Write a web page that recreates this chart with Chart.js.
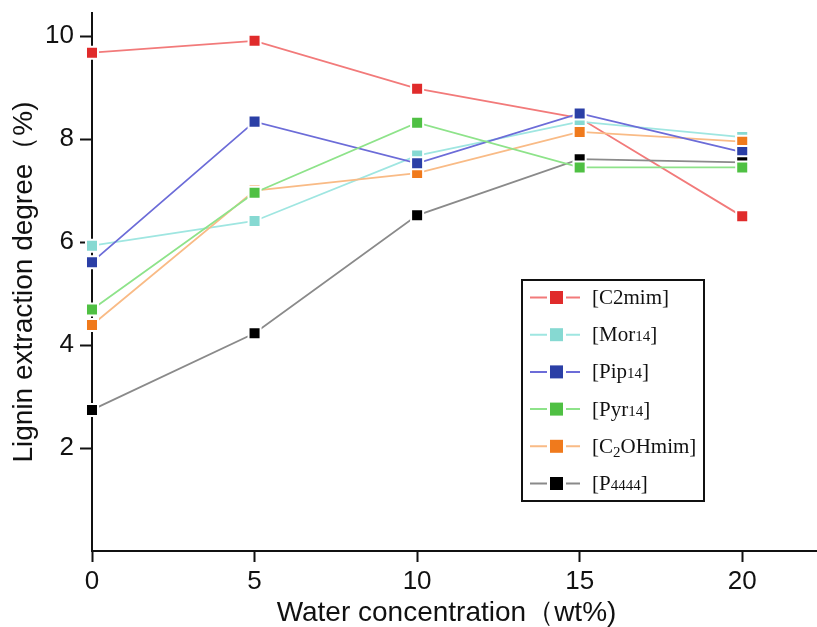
<!DOCTYPE html>
<html><head><meta charset="utf-8">
<script src="https://cdn.jsdelivr.net/npm/chart.js@4.4.1/dist/chart.umd.min.js"></script>
<style>html,body{margin:0;padding:0;background:#fff;}#wrap{width:817px;height:627px;position:relative;}</style>
</head><body><div id="wrap"><canvas id="c"></canvas></div>
<script>
// ---- data ----
const waterConc = [0, 5, 10, 15, 20];
const c2mim   = [9.68, 9.91, 8.98, 8.41, 6.50];
const mor14   = [5.93, 6.41, 7.68, 8.34, 8.04];
const pip14   = [5.61, 8.34, 7.53, 8.50, 7.75];
const pyr14   = [4.69, 6.96, 8.32, 7.45, 7.45];
const c2ohmim = [4.39, 7.00, 7.34, 8.14, 7.95];
const p4444   = [2.74, 4.23, 6.52, 7.61, 7.55];
const xTicks = [0, 5, 10, 15, 20];
const yTicks = [2, 4, 6, 8, 10];
const seriesNames = ['[C2mim]', '[Mor14]', '[Pip14]', '[Pyr14]', '[C2OHmim]', '[P4444]'];
// legend text pieces: n = normal, s = small digits, b = subscript
const legendParts = [
  [['[C2mim]', 'n']],
  [['[Mor', 'n'], ['14', 's'], [']', 'n']],
  [['[Pip', 'n'], ['14', 's'], [']', 'n']],
  [['[Pyr', 'n'], ['14', 's'], [']', 'n']],
  [['[C', 'n'], ['2', 'b'], ['OHmim]', 'n']],
  [['[P', 'n'], ['4444', 's'], [']', 'n']]
];
const xTitle = 'Water concentration\uFF08wt%)';
const yTitle = 'Lignin extraction degree\uFF08%)';

const markerColors = ['#e02b2b', '#86d9d2', '#2b3fa6', '#4fc043', '#f07a1c', '#000000'];
const lineColors   = ['#f27a7a', '#9fe6e1', '#6c6cd8', '#8ee38a', '#f9bb86', '#8a8a8a'];
const drawOrder    = [5, 4, 2, 0, 3, 1];
const seriesValues = [c2mim, mor14, pip14, pyr14, c2ohmim, p4444];

const datasets = seriesValues.map((vals, i) => ({
  label: seriesNames[i],
  data: waterConc.map((x, j) => ({x: x, y: vals[j]})),
  borderColor: lineColors[i],
  backgroundColor: markerColors[i],
  pointBackgroundColor: markerColors[i],
  pointBorderColor: '#ffffff',
  pointBorderWidth: 2,
  pointRadius: 8.5,
  pointHoverRadius: 8.5,
  pointStyle: 'rect',
  borderWidth: 1.8,
  tension: 0,
  clip: false,
  order: drawOrder[i]
}));

const boxLegend = {
  id: 'boxLegend',
  afterDraw(chart) {
    const ctx = chart.ctx;
    const bx = 522, by = 280, bw = 182, bh = 221;
    ctx.save();
    ctx.fillStyle = '#fff';
    ctx.fillRect(bx, by, bw, bh);
    ctx.strokeStyle = '#111';
    ctx.lineWidth = 2;
    ctx.strokeRect(bx, by, bw, bh);
    const ds = chart.data.datasets;
    for (let i = 0; i < ds.length; i++) {
      const y = 297.5 + i * 37.2;
      ctx.strokeStyle = ds[i].borderColor;
      ctx.lineWidth = 2;
      ctx.beginPath();
      ctx.moveTo(530, y); ctx.lineTo(547, y);
      ctx.moveTo(566, y); ctx.lineTo(580, y);
      ctx.stroke();
      ctx.fillStyle = ds[i].pointBackgroundColor;
      ctx.fillRect(550, y - 6.5, 13, 13);
      let tx = 592;
      const base = y + 6.5;
      ctx.fillStyle = '#111';
      ctx.textBaseline = 'alphabetic';
      ctx.textAlign = 'left';
      for (const [t, s] of legendParts[i]) {
        let dy = 0;
        if (s === 'n') ctx.font = '21px "Liberation Serif", "Times New Roman", serif';
        else ctx.font = '15px "Liberation Serif", "Times New Roman", serif';
        if (s === 'b') dy = 4;
        ctx.fillText(t, tx, base + dy);
        tx += ctx.measureText(t).width;
      }
    }
    ctx.restore();
  }
};

function shiftTitle(s, dx) {
  if (s._titlePatched) return;
  const orig = s.drawTitle.bind(s);
  s.drawTitle = function () {
    const ctx = this.ctx;
    ctx.save();
    ctx.translate(dx, 0);
    orig();
    ctx.restore();
  };
  s._titlePatched = true;
}

new Chart(document.getElementById('c'), {
  type: 'line',
  data: {datasets: datasets},
  options: {
    responsive: true,
    maintainAspectRatio: false,
    animation: false,
    events: [],
    layout: {autoPadding: false, padding: {left: 0, right: 0, top: 13, bottom: 0}},
    plugins: {legend: {display: false}, tooltip: {enabled: false}},
    scales: {
      x: {
        type: 'linear',
        min: 0, max: 22.3,
        afterBuildTicks: s => { s.ticks = xTicks.map(v => ({value: v})); },
        afterFit: s => { s.height = 76; s.paddingLeft = 0; s.paddingRight = 0; shiftTitle(s, -8); },
        border: {display: true, color: '#111', width: 2},
        grid: {display: true, drawOnChartArea: false, drawTicks: true, tickLength: 11, tickWidth: 2, tickColor: '#111'},
        ticks: {color: '#111', padding: 4, font: {family: '"Liberation Sans", Arial, sans-serif', size: 26}},
        title: {display: true, text: xTitle, color: '#111', padding: {top: 0, bottom: 0},
                font: {family: '"Liberation Sans", Arial, sans-serif', size: 28, lineHeight: 1}}
      },
      y: {
        type: 'linear',
        min: 0, max: 10.45,
        afterBuildTicks: s => { s.ticks = yTicks.map(v => ({value: v})); },
        afterFit: s => { s.width = 92; s.paddingTop = 0; s.paddingBottom = 0; },
        border: {display: true, color: '#111', width: 2},
        grid: {display: true, drawOnChartArea: false, drawTicks: true, tickLength: 12, tickWidth: 2, tickColor: '#111'},
        ticks: {color: '#111', padding: 6, font: {family: '"Liberation Sans", Arial, sans-serif', size: 26}},
        title: {display: true, text: yTitle, color: '#111', padding: {top: 10, bottom: 0},
                font: {family: '"Liberation Sans", Arial, sans-serif', size: 28, lineHeight: 1}}
      }
    }
  },
  plugins: [boxLegend]
});
</script>
</body></html>
